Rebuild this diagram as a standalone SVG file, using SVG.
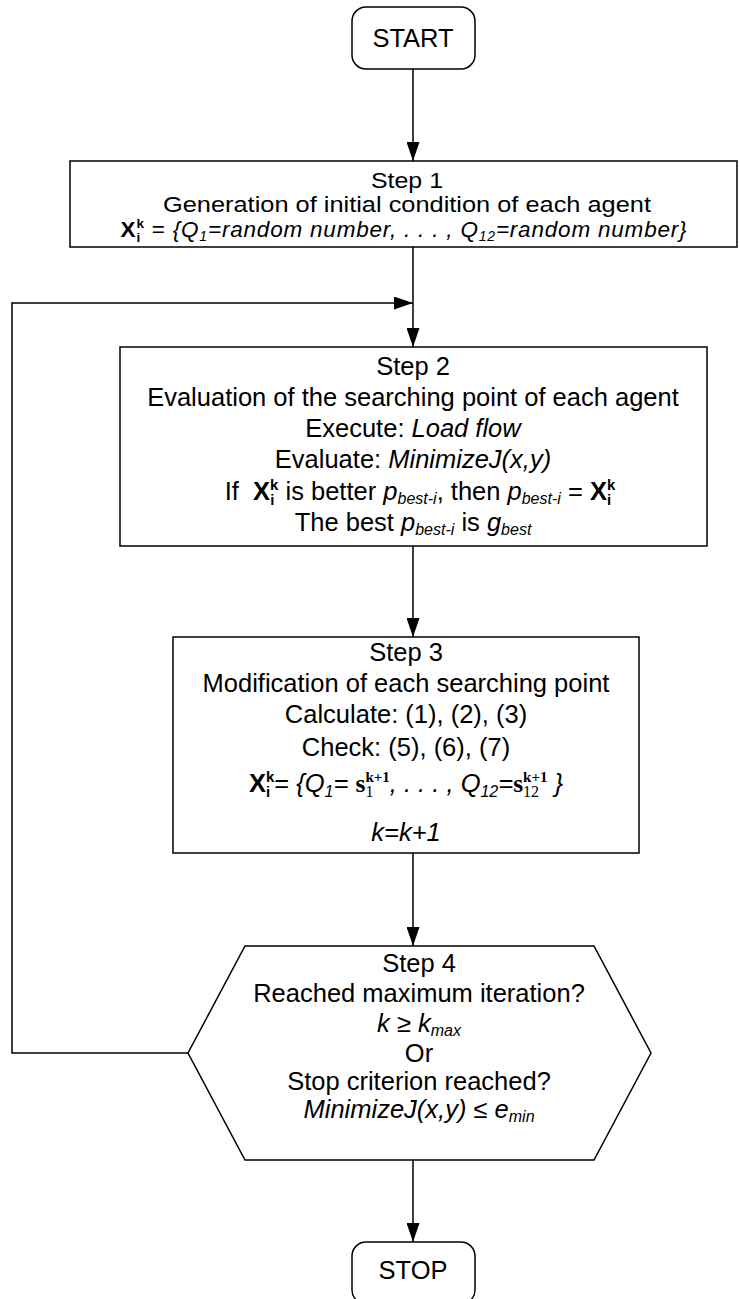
<svg xmlns="http://www.w3.org/2000/svg" width="741" height="1299" viewBox="0 0 741 1299">
<style>
text{font-family:"Liberation Sans",Arial,sans-serif;font-size:25.5px;fill:#000;text-anchor:middle;white-space:pre}
.t1{font-size:22.5px}
.ls{letter-spacing:0.8px}
.i{font-style:italic}
.b{font-weight:bold}
.s{font-size:16px}
.bs{font-size:15px;font-weight:bold}
.s1{font-size:14px}
.bs1{font-size:13.5px;font-weight:bold}
.sr{font-family:"Liberation Serif","Times New Roman",serif}
.shape{fill:#fff;stroke:#000;stroke-width:1.5}
.con{fill:none;stroke:#000;stroke-width:1.5}
</style>
<defs>
<marker id="ah" markerUnits="userSpaceOnUse" markerWidth="19" markerHeight="13" refX="19" refY="6.5" orient="auto"><path d="M0,0 L19,6.5 L0,13 z" fill="#000"/></marker>
</defs>
<rect width="741" height="1299" fill="#fff"/>
<g id="connectors">
<line class="con" x1="413" y1="69" x2="413" y2="161" marker-end="url(#ah)"/>
<line class="con" x1="413" y1="247" x2="413" y2="347" marker-end="url(#ah)"/>
<polyline class="con" points="188,1053 12,1053 12,303 413,303" marker-end="url(#ah)"/>
<line class="con" x1="413" y1="546" x2="413" y2="637" marker-end="url(#ah)"/>
<line class="con" x1="413" y1="853" x2="413" y2="946" marker-end="url(#ah)"/>
<line class="con" x1="413" y1="1160" x2="413" y2="1242" marker-end="url(#ah)"/>
</g>
<g id="start">
<rect class="shape" x="352" y="7" width="123" height="62" rx="14"/>
<text x="413" y="47">START</text>
</g>
<g id="step1">
<rect class="shape" x="70" y="161" width="667" height="86"/>
<text class="t1" x="407" y="188" textLength="72" lengthAdjust="spacingAndGlyphs">Step 1</text>
<text class="t1" x="407" y="212" textLength="488" lengthAdjust="spacingAndGlyphs">Generation of initial condition of each agent</text>
<text class="t1 ls" x="404" y="237"><tspan class="b">X</tspan><tspan class="bs1" dy="-9">k</tspan><tspan class="bs1" dx="-8.3" dy="14">i</tspan><tspan dx="3.7" dy="-5"> = </tspan><tspan class="i">{Q</tspan><tspan class="i s1" dy="4">1</tspan><tspan class="i" dy="-4">=random number, . . . , Q</tspan><tspan class="i s1" dy="4">12</tspan><tspan class="i" dy="-4">=random number}</tspan></text>
</g>
<g id="step2">
<rect class="shape" x="120" y="347" width="587" height="199"/>
<text x="413" y="375">Step 2</text>
<text x="413" y="406">Evaluation of the searching point of each agent</text>
<text x="413" y="437">Execute: <tspan class="i">Load flow</tspan></text>
<text x="413" y="468">Evaluate: <tspan class="i">MinimizeJ(x,y)</tspan></text>
<text x="420" y="500">If  <tspan class="b">X</tspan><tspan class="bs" dy="-10">k</tspan><tspan class="bs" dx="-8.3" dy="15">i</tspan><tspan dx="4.1" dy="-5"> is better </tspan><tspan class="i">p</tspan><tspan class="i s" dy="4">best-i</tspan><tspan dy="-4">, then </tspan><tspan class="i">p</tspan><tspan class="i s" dy="4">best-i</tspan><tspan dy="-4"> = </tspan><tspan class="b">X</tspan><tspan class="bs" dy="-10">k</tspan><tspan class="bs" dx="-8.3" dy="15">i</tspan></text>
<text x="413" y="531">The best <tspan class="i">p</tspan><tspan class="i s" dy="4">best-i</tspan><tspan dy="-4"> is </tspan><tspan class="i">g</tspan><tspan class="i s" dy="4">best</tspan></text>
</g>
<g id="step3">
<rect class="shape" x="173" y="637" width="466" height="216"/>
<text x="406" y="661">Step 3</text>
<text x="406" y="692">Modification of each searching point</text>
<text x="406" y="723">Calculate: (1), (2), (3)</text>
<text x="406" y="756">Check: (5), (6), (7)</text>
<text x="406" y="792"><tspan class="b">X</tspan><tspan class="bs" dy="-10">k</tspan><tspan class="bs" dx="-8.3" dy="15">i</tspan><tspan dx="4.1" dy="-5">= </tspan><tspan class="i">{Q</tspan><tspan class="i s" dy="5">1</tspan><tspan class="i" dy="-5">= </tspan><tspan class="sr b">s</tspan><tspan class="sr bs" dy="-10">k+1</tspan><tspan class="sr s" dx="-24.4" dy="15">1</tspan><tspan class="i" dx="16.4" dy="-5">, . . . , Q</tspan><tspan class="i s" dy="5">12</tspan><tspan class="i" dy="-5">=</tspan><tspan class="sr b">s</tspan><tspan class="sr bs" dy="-10">k+1</tspan><tspan class="sr s" dx="-24.4" dy="15">12</tspan><tspan class="i" dx="8.4" dy="-5"> }</tspan></text>
<text class="i" x="406" y="841">k=k+1</text>
</g>
<g id="step4">
<polygon class="shape" points="245,946 594,946 651,1053 594,1160 245,1160 188,1053"/>
<text x="419" y="972">Step 4</text>
<text x="419" y="1002">Reached maximum iteration?</text>
<text x="419" y="1032"><tspan class="i">k</tspan> ≥ <tspan class="i">k</tspan><tspan class="i s" dy="4">max</tspan></text>
<text x="419" y="1062">Or</text>
<text x="419" y="1090">Stop criterion reached?</text>
<text x="419" y="1118"><tspan class="i">MinimizeJ(x,y)</tspan> ≤ <tspan class="i">e</tspan><tspan class="i s" dy="4">min</tspan></text>
</g>
<g id="stop">
<rect class="shape" x="352" y="1242" width="123" height="62" rx="14"/>
<text x="413" y="1279">STOP</text>
</g>
</svg>
